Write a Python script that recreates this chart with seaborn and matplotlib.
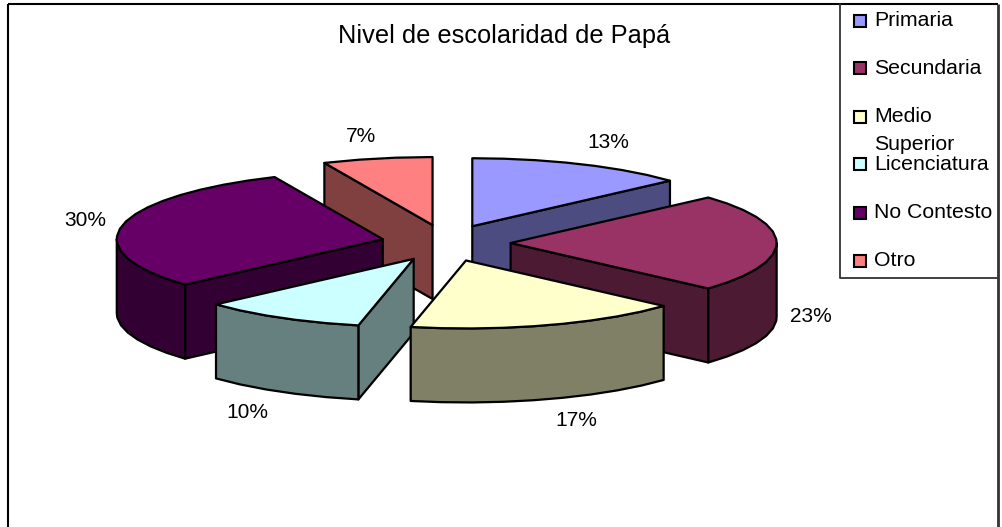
import numpy as np
import matplotlib
matplotlib.use('Agg')
import matplotlib.pyplot as plt
import seaborn as sns

# Data (answer counts, the labels are their shares)
categories = ['Primaria', 'Secundaria', 'Medio\nSuperior', 'Licenciatura', 'No Contesto', 'Otro']
counts = [4, 7, 5, 3, 9, 2]
top_colors = ['#9999FF', '#993366', '#FFFFCC', '#CCFFFF', '#660066', '#FF8080']
side_colors = ['#4C4C80', '#4D1A33', '#808066', '#668080', '#330033', '#804040']

# Layout in pixels
CX, CY = 446, 243
RX, RY = 266, 68
EXPLODE_X = 0.243
EXPLODE_Y = 0.27
DEPTH = 74
label_pos = [(608, 142.5), (811, 316.5), (576, 420.5), (247, 412.5), (85, 220.5), (361, 136.5)]
legend_y = [21, 68, 117, 164, 213, 261]

sns.set_theme(style='white')
plt.rcParams['font.family'] = ['Liberation Sans', 'DejaVu Sans']
palette = sns.color_palette(top_colors)
side_palette = sns.color_palette(side_colors)

fig = plt.figure(figsize=(10.02, 5.27), dpi=100)
ax = fig.add_axes([0, 0, 1, 1])
ax.set_xlim(0, 1002)
ax.set_ylim(527, 0)
ax.axis('off')


def draw_slice(start, end, top, side, z):
    mid = np.radians((start + end) / 2)
    ax0 = CX + EXPLODE_X * RX * np.sin(mid)
    ay0 = CY - EXPLODE_Y * RY * np.cos(mid)
    n = max(3, int((end - start) / 6))
    deg = np.linspace(start, end, n)
    # keep the exact left and right ends of the ellipse, the rim turns there
    extra = [a for a in (90, 270) if start < a < end]
    deg = np.unique(np.concatenate([deg, extra]))
    t = np.radians(deg)
    arc = np.column_stack([ax0 + RX * np.sin(t), ay0 - RY * np.cos(t)])
    apex = np.array([ax0, ay0])
    down = np.array([0, DEPTH])
    centre = np.vstack([apex, arc]).mean(axis=0)

    def wall(points, zorder):
        pts = np.vstack([points, (points + down)[::-1]])
        ax.fill(pts[:, 0], pts[:, 1], facecolor=side, edgecolor='black',
                linewidth=1.6, joinstyle='round', zorder=zorder)

    # cut faces, only those turned towards the viewer
    for p in (arc[0], arc[-1]):
        d = p - apex
        normal = np.array([d[1], -d[0]])
        if normal @ (centre - apex) > 0:
            normal = -normal
        if normal[1] > 1e-6:
            wall(np.array([apex, p]), z + 0.1)
    # outer rim, front half only
    front = np.cos(t) <= 1e-9
    if front.sum() > 1:
        wall(arc[front], z + 0.2)
    outline = np.vstack([apex, arc])
    ax.fill(outline[:, 0], outline[:, 1], facecolor=top, edgecolor='black',
            linewidth=1.6, joinstyle='round', zorder=z + 0.3)


# Slices go clockwise from 12 o'clock, painted back to front
total = sum(counts)
edges = np.cumsum([0] + counts) / total * 360
mids = (edges[:-1] + edges[1:]) / 2
order = np.argsort(-np.cos(np.radians(mids)))
for rank, i in enumerate(order):
    draw_slice(edges[i], edges[i + 1], palette[i], side_palette[i], rank + 2)

for (x, y), v in zip(label_pos, counts):
    ax.text(x, y, f'{100 * v / total:.0f}%', ha='center', va='center', fontsize=15, color='black', zorder=20)

ax.text(504, 36.5, 'Nivel de escolaridad de Papá', ha='center', va='center', fontsize=18.3, color='black')

# Chart frame
ax.plot([8, 8], [527, 4], color='black', lw=1.5, solid_capstyle='butt', clip_on=False)
ax.plot([8, 998], [4, 4], color='black', lw=1.5, solid_capstyle='butt')
ax.plot([998, 998], [4, 527], color='#333333', lw=2, solid_capstyle='butt')

# Legend box
ax.plot([840, 840, 998], [4, 278, 278], color='#333333', lw=1.3)
for y, name, c in zip(legend_y, categories, palette):
    ax.add_patch(plt.Rectangle((854, y - 6), 12, 12, facecolor=c, edgecolor='black', lw=1.5))
    if '\n' in name:
        first, second = name.split('\n')
        ax.text(874, y - 1, first, ha='left', va='center', fontsize=15.3, color='black')
        ax.text(874, y + 28, second, ha='left', va='center', fontsize=15.3, color='black')
    else:
        ax.text(874, y, name, ha='left', va='center', fontsize=15.3, color='black')

fig.savefig('out.png', dpi=100, facecolor='white')
